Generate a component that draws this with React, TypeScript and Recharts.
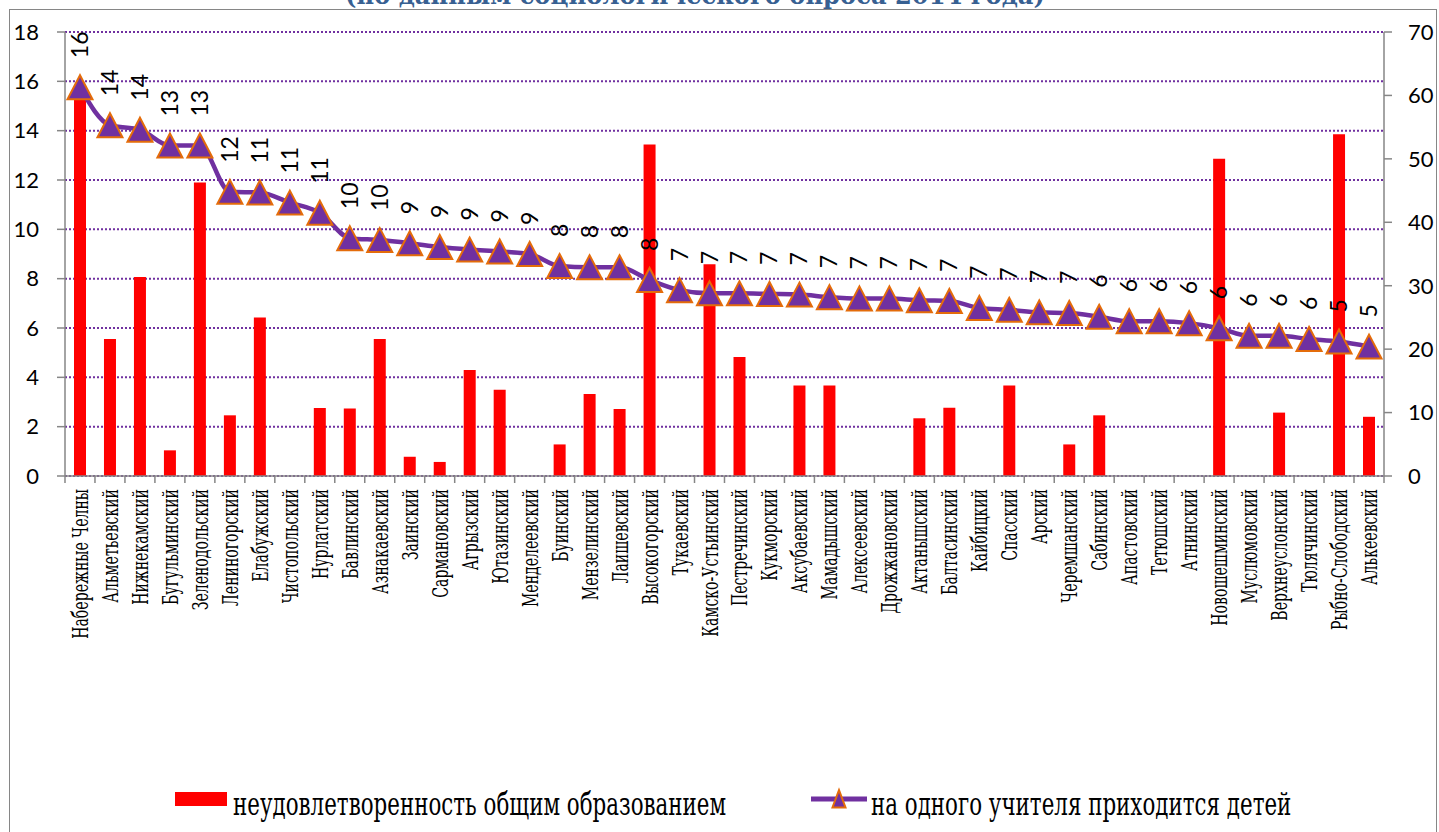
import { ComposedChart, Bar, Line, XAxis, YAxis, CartesianGrid, Legend, LabelList } from 'recharts';

// районы по убыванию нагрузки на учителя
const districts = [
  'Набережные Челны', 'Альметьевский', 'Нижнекамский', 'Бугульминский', 'Зеленодольский',
  'Лениногорский', 'Елабужский', 'Чистопольский', 'Нурлатский', 'Бавлинский',
  'Азнакаевский', 'Заинский', 'Сармановский', 'Агрызский', 'Ютазинский',
  'Менделеевский', 'Буинский', 'Мензелинский', 'Лаишевский', 'Высокогорский',
  'Тукаевский', 'Камско-Устьинский', 'Пестречинский', 'Кукморский', 'Аксубаевский',
  'Мамадышский', 'Алексеевский', 'Дрожжановский', 'Актанышский', 'Балтасинский',
  'Кайбицкий', 'Спасский', 'Арский', 'Черемшанский', 'Сабинский',
  'Апастовский', 'Тетюшский', 'Атнинский', 'Новошешминский', 'Муслюмовский',
  'Верхнеуслонский', 'Тюлячинский', 'Рыбно-Слободский', 'Алькеевский',
];

// неудовлетворенность общим образованием (левая ось)
const dissatisfaction = [
  15.5, 5.55, 8.07, 1.04, 11.9, 2.46, 6.43, 0, 2.76, 2.74,
  5.55, 0.78, 0.57, 4.3, 3.5, 0, 1.28, 3.32, 2.72, 13.44,
  0, 8.58, 4.82, 0, 3.67, 3.67, 0, 0, 2.34, 2.77,
  0, 3.67, 0, 1.28, 2.46, 0, 0, 0, 12.86, 0,
  2.57, 0, 13.85, 2.4,
];

// на одного учителя приходится детей (правая ось)
const childrenPerTeacher = [
  61.3, 55.3, 54.6, 52.1, 52.1, 44.8, 44.7, 43.1, 41.5, 37.5,
  37.2, 36.7, 36.1, 35.7, 35.4, 35.0, 33.1, 32.9, 32.9, 30.9,
  29.3, 28.8, 28.8, 28.7, 28.6, 28.2, 28.0, 28.0, 27.7, 27.6,
  26.5, 26.2, 25.8, 25.7, 25.1, 24.4, 24.4, 24.1, 23.3, 22.1,
  22.1, 21.6, 21.2, 20.4,
];

// подписи над точками линии
const lineLabels = [
  16, 14, 14, 13, 13, 12, 11, 11, 11, 10,
  10, 9, 9, 9, 9, 9, 8, 8, 8, 8,
  7, 7, 7, 7, 7, 7, 7, 7, 7, 7,
  7, 7, 7, 7, 6, 6, 6, 6, 6, 6,
  6, 6, 5, 5,
];

const leftTicks = [0, 2, 4, 6, 8, 10, 12, 14, 16, 18];
const rightTicks = [0, 10, 20, 30, 40, 50, 60, 70];

const PURPLE = '#7030A0';
const ORANGE = '#E46C0A';
const AXIS = '#868686';
const SERIF = '"DejaVu Serif", serif';
const SANS = 'Lato, "Noto Sans", sans-serif';

const data = districts.map((name, i) => ({
  name,
  dissatisfaction: dissatisfaction[i],
  perTeacher: childrenPerTeacher[i],
  label: lineLabels[i],
}));

function CategoryTick(props: any) {
  const { x, y, payload, index } = props;
  const isLast = index === districts.length - 1;
  return (
    <g>
      <line x1={x - 15} x2={x - 15} y1={y} y2={y + 7} stroke={AXIS} strokeWidth={1.5} />
      {isLast && <line x1={x + 15} x2={x + 15} y1={y} y2={y + 7} stroke={AXIS} strokeWidth={1.5} />}
      <text
        transform={`translate(${x},${y + 13}) rotate(-90) scale(0.64,1)`}
        y={8}
        textAnchor="end"
        fill="#000"
        style={{ fontFamily: SERIF, fontSize: 22 }}
      >
        {payload.value}
      </text>
    </g>
  );
}

function TriangleDot(props: any) {
  const { cx, cy, index } = props;
  if (cx == null || cy == null) return null;
  return (
    <polygon
      key={index}
      points={`${cx},${cy - 12} ${cx - 12.5},${cy + 12} ${cx + 12.5},${cy + 12}`}
      fill={PURPLE}
      stroke={ORANGE}
      strokeWidth={2}
    />
  );
}

const renderLineLabel = (props: any) => {
  const x = props.x ?? props.viewBox?.x;
  const y = props.y ?? props.viewBox?.y;
  return (
    <text
      key={props.index}
      transform={`translate(${x},${y - 29}) rotate(-90)`}
      y={8}
      textAnchor="start"
      fill="#000"
      style={{ fontFamily: SANS, fontSize: 23 }}
    >
      {props.value}
    </text>
  );
};

const renderLegend = () => (
  <svg width={1439} height={50} style={{ display: 'block' }}>
    <rect x={175} y={12} width={52} height={14} fill="#FF0000" />
    <text transform="translate(233,35) scale(0.69,1)" fill="#000" style={{ fontFamily: SERIF, fontSize: 31 }}>
      неудовлетворенность общим образованием
    </text>
    <line x1={811} x2={867} y1={19} y2={19} stroke={PURPLE} strokeWidth={5} />
    <polygon points="839,10 832.5,27.5 845.5,27.5" fill={PURPLE} stroke={ORANGE} strokeWidth={2} />
    <text transform="translate(871,35) scale(0.69,1)" fill="#000" style={{ fontFamily: SERIF, fontSize: 31 }}>
      на одного учителя приходится детей
    </text>
  </svg>
);

export default function App() {
  return (
    <div style={{ position: 'absolute', left: 0, top: 0, width: 1439, height: 832, overflow: 'hidden', background: '#fff' }}>
      <div
        style={{
          position: 'absolute', left: 9, top: 9, width: 1428, height: 900,
          boxSizing: 'border-box', border: `1.5px solid ${AXIS}`,
        }}
      />
      <svg width={1439} height={20} style={{ position: 'absolute', left: 0, top: 0 }}>
        <text
          x={345}
          y={4}
          textLength={700}
          lengthAdjust="spacingAndGlyphs"
          fontWeight="bold"
          fill="#376092"
          style={{ fontFamily: SERIF, fontSize: 26 }}
        >
          (по данным социологического опроса 2014 года)
        </text>
      </svg>
      <div style={{ position: 'absolute', left: 0, top: 0 }}>
        <ComposedChart width={1439} height={832} data={data} margin={{ top: 32, right: 0, bottom: 186, left: 0 }}>
          <CartesianGrid
            yAxisId="left"
            vertical={false}
            stroke={PURPLE}
            strokeWidth={2}
            strokeDasharray="2 2"
          />
          <XAxis
            dataKey="name"
            interval={0}
            height={170}
            tickSize={0}
            tickMargin={0}
            tickLine={false}
            axisLine={{ stroke: AXIS, strokeWidth: 1.5 }}
            tick={(p: any) => <CategoryTick {...p} />}
          />
          <YAxis
            yAxisId="left"
            domain={[0, 18]}
            ticks={leftTicks}
            interval={0}
            width={65}
            tickSize={8}
            tickMargin={18}
            axisLine={{ stroke: AXIS, strokeWidth: 1.5 }}
            tickLine={{ stroke: AXIS, strokeWidth: 1.5 }}
            tick={{ fontSize: 22, fontFamily: SANS, fill: '#000' }}
          />
          <YAxis
            yAxisId="right"
            orientation="right"
            domain={[0, 70]}
            ticks={rightTicks}
            interval={0}
            width={55}
            tickSize={8}
            tickMargin={16}
            axisLine={{ stroke: AXIS, strokeWidth: 1.5 }}
            tickLine={{ stroke: AXIS, strokeWidth: 1.5 }}
            tick={{ fontSize: 22, fontFamily: SANS, fill: '#000' }}
          />
          <Legend
            layout="vertical"
            verticalAlign="middle"
            align="center"
            content={renderLegend}
            wrapperStyle={{ position: 'absolute', left: 0, top: 780, width: 1439, height: 50 }}
          />
          <Bar
            yAxisId="left"
            dataKey="dissatisfaction"
            name="неудовлетворенность общим образованием"
            fill="#FF0000"
            barSize={12}
            isAnimationActive={false}
          />
          <Line
            yAxisId="right"
            type="monotone"
            dataKey="perTeacher"
            name="на одного учителя приходится детей"
            stroke={PURPLE}
            strokeWidth={4.5}
            dot={(p: any) => <TriangleDot {...p} />}
            activeDot={false}
            isAnimationActive={false}
          >
            <LabelList dataKey="label" content={renderLineLabel} />
          </Line>
        </ComposedChart>
      </div>
    </div>
  );
}
